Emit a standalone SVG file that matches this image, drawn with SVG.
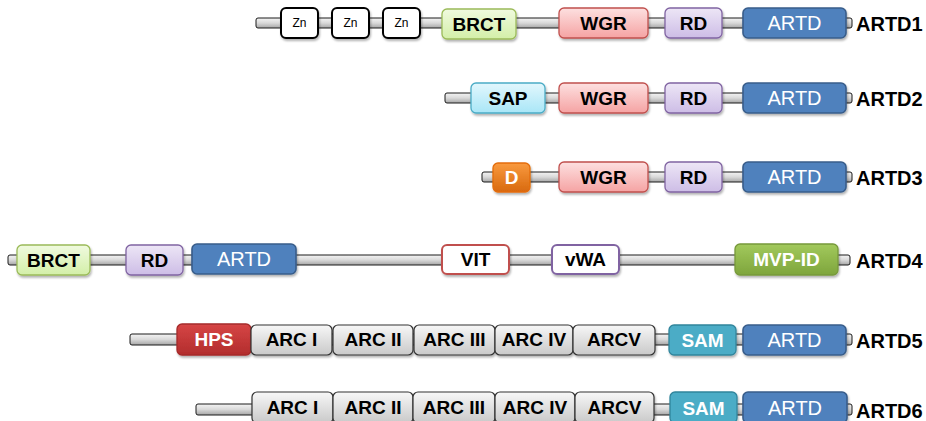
<svg xmlns="http://www.w3.org/2000/svg" width="926" height="421" viewBox="0 0 926 421">
<defs>
<linearGradient id="gBack" x1="0" y1="0" x2="0" y2="1"><stop offset="0" stop-color="#f4f4f4"/><stop offset="0.5" stop-color="#d9d9d9"/><stop offset="1" stop-color="#a6a6a6"/></linearGradient>
<linearGradient id="gBrct" x1="0" y1="0" x2="0" y2="1"><stop offset="0" stop-color="#f0fadf"/><stop offset="1" stop-color="#d3efa8"/></linearGradient>
<linearGradient id="gWgr" x1="0" y1="0" x2="0" y2="1"><stop offset="0" stop-color="#fde0e0"/><stop offset="1" stop-color="#f5a3a3"/></linearGradient>
<linearGradient id="gRd" x1="0" y1="0" x2="0" y2="1"><stop offset="0" stop-color="#ede6f6"/><stop offset="1" stop-color="#cdbde6"/></linearGradient>
<linearGradient id="gSap" x1="0" y1="0" x2="0" y2="1"><stop offset="0" stop-color="#e2f7fd"/><stop offset="1" stop-color="#a9e6f7"/></linearGradient>
<linearGradient id="gD" x1="0" y1="0" x2="0" y2="1"><stop offset="0" stop-color="#f99a3e"/><stop offset="1" stop-color="#d8690f"/></linearGradient>
<linearGradient id="gMvp" x1="0" y1="0" x2="0" y2="1"><stop offset="0" stop-color="#a2c95c"/><stop offset="1" stop-color="#7ea53c"/></linearGradient>
<linearGradient id="gHps" x1="0" y1="0" x2="0" y2="1"><stop offset="0" stop-color="#d64545"/><stop offset="1" stop-color="#b22d2d"/></linearGradient>
<linearGradient id="gArc" x1="0" y1="0" x2="0" y2="1"><stop offset="0" stop-color="#f7f7f7"/><stop offset="1" stop-color="#c9c9c9"/></linearGradient>
<filter id="sh" x="-10%" y="-20%" width="130%" height="160%"><feDropShadow dx="1" dy="2" stdDeviation="1.2" flood-color="#000" flood-opacity="0.3"/></filter>
</defs>
<style>
.bb{fill:url(#gBack);stroke:#1a1a1a;stroke-width:1}
.box{stroke-width:1.3;filter:url(#sh)}
.zn{fill:#fff;stroke:#000;stroke-width:2}
.brct{fill:url(#gBrct);stroke:#9bbb59}
.wgr{fill:url(#gWgr);stroke:#c0504d}
.rd{fill:url(#gRd);stroke:#8064a2}
.artd{fill:#4f81bd;stroke:#385d8a;stroke-width:1.6}
.sap{fill:url(#gSap);stroke:#4bacc6}
.d{fill:url(#gD);stroke:#e46c0a}
.vit{fill:#fff;stroke:#c0504d;stroke-width:2}
.vwa{fill:#fff;stroke:#8064a2;stroke-width:2}
.mvp{fill:url(#gMvp);stroke:#77993b}
.hps{fill:url(#gHps);stroke:#a52a2a}
.arc{fill:url(#gArc);stroke:#333;stroke-width:1.2}
.sam{fill:#4bacc6;stroke:#31859c}
text{font-family:"Liberation Sans",Arial,sans-serif;text-anchor:middle}
.t{font-size:19px;font-weight:bold;fill:#000}
.tw{font-size:19px;font-weight:bold;fill:#fff}
.ta{font-size:20px;fill:#fff}
.tz{font-size:12px;fill:#000}
.lab{font-size:20px;font-weight:bold;fill:#000;text-anchor:start}
</style>
<g id="backbones">
<rect class="bb" x="256" y="18" width="596" height="10" rx="2"/>
<rect class="bb" x="445" y="93" width="407" height="10" rx="2"/>
<rect class="bb" x="482" y="172" width="370" height="10" rx="2"/>
<rect class="bb" x="8" y="255" width="842" height="10" rx="2"/>
<rect class="bb" x="130" y="334" width="722" height="11" rx="2"/>
<rect class="bb" x="196" y="404" width="656" height="11" rx="2"/>
</g>
<g id="artd1">
<g id="r1-zn1"><rect class="box zn" x="281" y="8" width="37" height="30" rx="5"/><text class="tz" x="299.5" y="27">Zn</text></g>
<g id="r1-zn2"><rect class="box zn" x="332" y="8" width="37" height="30" rx="5"/><text class="tz" x="350.5" y="27">Zn</text></g>
<g id="r1-zn3"><rect class="box zn" x="383" y="8" width="37" height="30" rx="5"/><text class="tz" x="401.5" y="27">Zn</text></g>
<g id="r1-brct"><rect class="box brct" x="442" y="9" width="74" height="30" rx="5"/><text class="t" x="479" y="30.5">BRCT</text></g>
<g id="r1-wgr"><rect class="box wgr" x="559" y="8" width="89" height="30" rx="5"/><text class="t" x="603.5" y="30">WGR</text></g>
<g id="r1-rd"><rect class="box rd" x="665" y="8" width="57" height="30" rx="5"/><text class="t" x="693.5" y="30">RD</text></g>
<g id="r1-artd"><rect class="box artd" x="743" y="8" width="103" height="30" rx="5"/><text class="ta" x="794.5" y="30">ARTD</text></g>
<text class="lab" x="856" y="31">ARTD1</text>
</g>
<g id="artd2">
<g id="r2-sap"><rect class="box sap" x="471" y="83" width="74" height="30" rx="5"/><text class="t" x="508" y="105">SAP</text></g>
<g id="r2-wgr"><rect class="box wgr" x="559" y="83" width="89" height="30" rx="5"/><text class="t" x="603.5" y="105">WGR</text></g>
<g id="r2-rd"><rect class="box rd" x="665" y="83" width="57" height="30" rx="5"/><text class="t" x="693.5" y="105">RD</text></g>
<g id="r2-artd"><rect class="box artd" x="743" y="83" width="103" height="30" rx="5"/><text class="ta" x="794.5" y="105">ARTD</text></g>
<text class="lab" x="856" y="106">ARTD2</text>
</g>
<g id="artd3">
<g id="r3-d"><rect class="box d" x="493" y="163" width="37" height="29" rx="5"/><text class="tw" x="511.5" y="184">D</text></g>
<g id="r3-wgr"><rect class="box wgr" x="559" y="162" width="89" height="30" rx="5"/><text class="t" x="603.5" y="184">WGR</text></g>
<g id="r3-rd"><rect class="box rd" x="665" y="162" width="57" height="30" rx="5"/><text class="t" x="693.5" y="184">RD</text></g>
<g id="r3-artd"><rect class="box artd" x="743" y="162" width="103" height="30" rx="5"/><text class="ta" x="794.5" y="184">ARTD</text></g>
<text class="lab" x="856" y="185">ARTD3</text>
</g>
<g id="artd4">
<g id="r4-brct"><rect class="box brct" x="17" y="245" width="73" height="30" rx="5"/><text class="t" x="53.5" y="267">BRCT</text></g>
<g id="r4-rd"><rect class="box rd" x="126" y="245" width="57" height="30" rx="5"/><text class="t" x="154.5" y="267">RD</text></g>
<g id="r4-artd"><rect class="box artd" x="192" y="244" width="104" height="30" rx="5"/><text class="ta" x="244" y="266">ARTD</text></g>
<g id="r4-vit"><rect class="box vit" x="442" y="245" width="67" height="29" rx="5"/><text class="t" x="475.5" y="266">VIT</text></g>
<g id="r4-vwa"><rect class="box vwa" x="552" y="245" width="67" height="29" rx="5"/><text class="t" x="585.5" y="266">vWA</text></g>
<g id="r4-mvp"><rect class="box mvp" x="735" y="244" width="103" height="31" rx="5"/><text class="tw" x="786.5" y="266">MVP-ID</text></g>
<text class="lab" x="856" y="268">ARTD4</text>
</g>
<g id="artd5">
<g id="r5-hps"><rect class="box hps" x="177" y="324" width="74" height="31" rx="5"/><text class="tw" x="214" y="346">HPS</text></g>
<g id="r5-arc1"><rect class="box arc" x="251" y="325" width="81" height="30" rx="5"/><text class="t" x="291.5" y="346">ARC I</text></g>
<g id="r5-arc2"><rect class="box arc" x="333" y="325" width="80" height="30" rx="5"/><text class="t" x="373" y="346">ARC II</text></g>
<g id="r5-arc3"><rect class="box arc" x="414" y="325" width="81" height="30" rx="5"/><text class="t" x="454.5" y="346">ARC III</text></g>
<g id="r5-arc4"><rect class="box arc" x="495" y="325" width="78" height="30" rx="5"/><text class="t" x="534" y="346">ARC IV</text></g>
<g id="r5-arc5"><rect class="box arc" x="573" y="325" width="82" height="30" rx="5"/><text class="t" x="614" y="346">ARCV</text></g>
<g id="r5-sam"><rect class="box sam" x="669" y="325" width="67" height="30" rx="5"/><text class="tw" x="702.5" y="347">SAM</text></g>
<g id="r5-artd"><rect class="box artd" x="743" y="325" width="103" height="30" rx="5"/><text class="ta" x="794.5" y="347">ARTD</text></g>
<text class="lab" x="856" y="348">ARTD5</text>
</g>
<g id="artd6">
<g id="r6-arc1"><rect class="box arc" x="252" y="392" width="81" height="31" rx="5"/><text class="t" x="292.5" y="414">ARC I</text></g>
<g id="r6-arc2"><rect class="box arc" x="333" y="392" width="80" height="31" rx="5"/><text class="t" x="373" y="414">ARC II</text></g>
<g id="r6-arc3"><rect class="box arc" x="413" y="392" width="82" height="31" rx="5"/><text class="t" x="454" y="414">ARC III</text></g>
<g id="r6-arc4"><rect class="box arc" x="495" y="392" width="80" height="31" rx="5"/><text class="t" x="535" y="414">ARC IV</text></g>
<g id="r6-arc5"><rect class="box arc" x="575" y="392" width="79" height="31" rx="5"/><text class="t" x="614.5" y="414">ARCV</text></g>
<g id="r6-sam"><rect class="box sam" x="670" y="392" width="67" height="31" rx="5"/><text class="tw" x="703.5" y="415">SAM</text></g>
<g id="r6-artd"><rect class="box artd" x="743" y="392" width="104" height="31" rx="5"/><text class="ta" x="795" y="415">ARTD</text></g>
<text class="lab" x="856" y="418">ARTD6</text>
</g>
</svg>
